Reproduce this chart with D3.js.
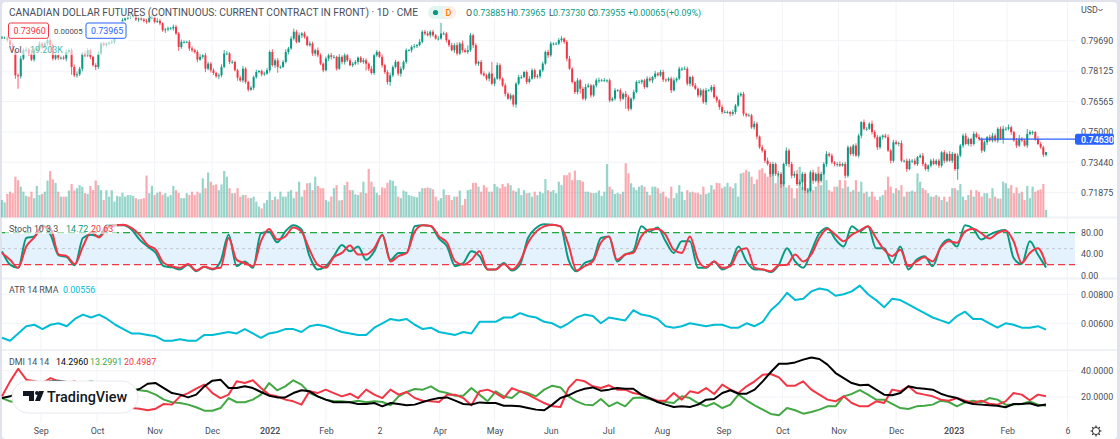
<!DOCTYPE html>
<html>
<head>
<meta charset="utf-8">
<script src="https://cdn.jsdelivr.net/npm/d3@7"></script>
<style>
html, body { margin: 0; padding: 0; background: #e0e3eb; overflow: hidden; }
text { font-family: Roboto, sans-serif; }
.axis text { fill: #4a4e58; font-size: 8.9px; }
</style>
</head>
<body>
<svg id="chart" width="1120" height="439"></svg>
<script>
// close of each session, in 1/10000 of a dollar
const closes = [
7985,7985,7972,7946,7920,7791,7786,7877,7920,7923,7903,7872,7920,7929,7954,7937,7954,7972,7946,7877,
7894,7882,7882,7877,7911,7920,7834,7791,7796,7825,7903,7894,7920,7886,7843,7834,7903,7954,7946,7954,
7958,7963,7989,8006,8040,8075,8083,8092,8092,8101,8078,8083,8078,8071,8066,8092,8092,8066,8071,8058,
8023,8027,8032,8032,8040,8006,7937,7963,7963,7963,7929,7920,7911,7872,7886,7894,7825,7851,7817,7803,
7786,7791,7834,7903,7903,7860,7860,7817,7779,7765,7825,7757,7717,7727,7782,7808,7813,7796,7800,7817,
7911,7843,7868,7834,7834,7860,7911,7929,7980,8015,7963,7997,8006,7989,7946,7954,7903,7920,7894,7851,
7817,7877,7894,7886,7886,7825,7886,7860,7894,7868,7843,7851,7860,7882,7860,7868,7851,7825,7803,
7894,7911,7886,7843,7808,7757,7791,7834,7860,7800,7825,7860,7920,7920,7937,7941,7946,7963,8015,8006,
7997,8015,7997,7980,7980,8006,8006,7972,7946,7920,7946,7903,7954,7920,7911,7920,7997,7946,7851,7860,
7800,7791,7774,7800,7748,7774,7843,7774,7739,7696,7671,7688,7641,7748,7782,7782,7808,7757,7774,7817,
7782,7786,7817,7851,7911,7894,7954,7954,7954,7972,7980,7963,7877,7825,7757,7705,7765,7722,7671,7731,
7739,7688,7739,7765,7765,7765,7765,7765,7662,7671,7714,7714,7671,7696,7679,7619,7671,7705,7757,7757,
7765,7731,7774,7765,7782,7800,7791,7808,7769,7765,7774,7714,7765,7774,7825,7825,7825,7748,7782,7739,
7722,7688,7714,7653,7714,7714,7731,7679,7662,7628,7602,7602,7602,7593,7602,7636,7688,7696,7593,
7585,7585,7524,7542,7476,7421,7404,7352,7335,7284,7335,7284,7284,7232,7335,7404,7335,7275,7284,7232,
7241,7284,7198,7198,7292,7249,7284,7249,7284,7335,7387,7378,7344,7335,7335,7327,7335,7275,7421,7387,
7430,7378,7481,7550,7516,7516,7542,7499,7473,7421,7473,7481,7473,7404,7352,7447,7438,7442,7352,7352,
7309,7352,7352,7335,7370,7378,7335,7309,7327,7352,7335,7352,7327,7395,7352,7387,7352,7387,7309,7378,
7430,7481,7438,7464,7438,7490,7473,7464,7404,7447,7473,7456,7481,7456,7516,7464,7516,7516,7524,7499,
7456,7430,7464,7456,7430,7490,7499,7499,7464,7438,7421,7383,7396
];
// how far each session's high runs above its body, same units
const highWicks = [
8,6,10,8,12,6,10,15,10,12,8,20,10,8,12,8,10,14,12,10,
8,10,6,10,12,8,10,12,15,10,8,12,10,8,6,10,12,8,10,6,
8,10,12,10,14,10,8,12,18,10,8,10,14,8,10,6,12,8,14,10,
6,8,10,8,12,10,8,12,8,6,10,12,8,10,14,6,12,10,8,10,
6,10,14,18,12,8,10,6,8,10,14,8,6,10,8,12,6,8,10,12,
8,14,10,12,8,10,14,8,12,16,10,14,8,10,6,12,10,8,14,10,
6,10,8,12,10,6,14,8,10,6,12,8,10,6,8,12,10,6,14,8,
10,6,12,8,10,14,8,10,6,12,8,10,6,8,10,6,14,8,10,12,
8,10,6,12,55,10,8,6,12,10,14,8,16,10,25,12,8,10,6,10,
12,8,10,60,8,14,10,6,12,8,10,6,8,12,10,6,8,14,10,8,
12,6,10,8,12,10,6,8,10,12,6,10,14,8,6,12,8,10,16,12,
8,6,10,14,8,12,6,10,8,12,6,10,8,14,10,6,12,8,10,6,
8,12,10,6,14,8,10,12,6,8,10,14,6,10,8,12,10,6,8,12,
6,10,8,12,6,10,14,8,6,12,10,8,6,12,8,14,8,10,6,10,8,14,
10,6,12,8,16,10,12,8,14,10,8,16,10,12,14,20,14,10,8,12,
10,14,8,6,12,10,14,8,12,6,10,14,8,12,10,6,8,12,10,6,
14,10,8,16,10,12,8,6,10,14,8,12,10,8,14,6,12,10,8,12,
6,10,14,8,6,10,12,8,10,6,12,8,14,10,6,12,8,10,14,8,
6,12,10,14,8,10,6,12,14,10,8,12,16,10,14,8,6,12,20,10,
8,25,10,8,6,14,10,8,1
];
const lowWicks = [
6,8,10,8,14,18,64,12,8,10,12,8,10,6,8,12,8,10,40,10,
8,12,10,6,14,10,40,10,12,8,14,10,8,12,8,16,10,8,6,10,
8,6,12,8,6,10,8,6,10,6,8,12,6,8,10,6,12,8,6,10,
8,14,10,6,12,8,20,10,8,6,12,10,8,14,6,10,18,8,12,10,
8,14,10,6,8,12,10,6,16,8,12,10,10,6,12,8,6,10,8,6,
12,8,14,30,10,6,8,12,6,10,8,6,14,10,6,8,12,14,10,8,
10,6,12,14,8,10,6,12,14,8,6,10,8,14,6,10,35,12,8,10,
8,6,12,10,14,20,10,8,12,16,8,10,6,12,8,10,6,8,10,6,
12,8,6,10,6,8,12,10,6,14,10,8,12,6,10,8,14,10,12,8,
6,10,14,8,12,6,10,8,14,6,10,12,16,8,10,6,12,8,6,10,
8,12,10,6,14,8,10,6,8,12,10,14,6,8,10,12,25,8,10,6,
12,8,10,14,6,8,12,10,6,10,8,14,6,60,12,8,10,6,8,12,
10,6,8,14,10,6,8,12,10,8,14,6,10,8,12,6,10,14,8,6,
12,10,8,14,6,10,8,12,14,10,6,8,14,10,12,8,8,12,10,6,8,12,
14,8,10,12,8,16,12,10,14,20,12,10,16,14,12,10,8,40,12,14,
10,16,8,12,10,6,14,8,10,12,14,8,6,14,10,8,12,6,10,14,
8,10,6,12,8,14,10,12,6,8,14,10,6,12,8,10,14,6,12,8,
10,6,12,8,14,10,6,8,12,10,14,8,6,12,10,55,8,12,6,10,
14,8,6,10,12,8,14,6,10,8,12,6,25,10,8,14,6,12,8,10,
6,12,8,14,10,6,8,12,10
];
// volume in thousands
const volumes = [
45,39,61,67,63,106,97,80,67,56,54,67,50,82,58,61,67,96,121,99,
90,67,54,54,54,70,87,70,76,84,80,63,61,82,71,96,84,71,45,71,
54,71,41,56,54,64,54,58,58,56,50,47,48,50,109,63,82,58,64,67,
58,63,54,58,82,71,64,50,50,63,58,67,58,67,63,102,76,117,93,84,
86,71,86,121,106,76,63,63,76,54,58,58,50,50,54,41,28,23,37,45,
67,45,54,47,67,54,54,67,71,50,67,93,54,71,89,90,71,106,82,76,
76,45,41,54,76,84,44,45,84,93,71,71,60,58,65,93,63,126,93,
80,64,58,78,76,90,97,95,82,54,50,70,67,58,56,54,52,67,76,76,
78,76,73,54,44,50,73,58,58,45,54,54,70,32,48,71,73,90,90,80,
67,84,78,67,67,87,80,76,87,80,89,84,70,67,76,58,71,63,64,54,
67,58,67,63,100,71,67,71,63,93,84,110,110,117,97,122,97,97,93,67,
67,64,63,64,70,56,67,139,80,73,61,64,61,67,141,115,89,78,71,80,
84,80,67,58,80,80,76,63,67,54,50,80,50,63,84,67,45,71,65,67,
64,64,60,80,61,64,84,73,90,89,76,80,90,80,76,89,54,115,117,
124,119,106,87,99,124,128,115,106,119,115,89,115,93,93,78,84,76,50,76,
132,80,67,76,76,71,80,132,84,115,97,71,67,80,80,97,76,97,80,67,
71,97,67,93,63,67,54,67,54,45,54,58,71,106,80,63,76,71,84,54,
67,67,70,67,115,93,76,71,63,54,54,58,54,45,54,41,54,76,76,71,
87,54,45,58,71,54,71,67,54,63,63,50,76,54,49,49,93,89,76,84,
63,78,63,67,45,82,50,80,67,71,73,87,19.2
];

// indicator lines are read about every third session
const lineStep = 390 / 129;
const stochK = [
45,20,14,70,73,94,76,37.5,34,19,70,76,73,94,94,94,86,67,54,42,17,15,11,20,7.5,16,11,26,76,17,26,14,79,82,62,82,94,86,36,11,17,36,57,45,54,29,
45,76,29,42,42,92,94,92,69,54,17,23,45,36,11,11,23,9,20,70,89,96,95,92,29,7.5,23,29,70,73,26,39,45,92,82,90,64,42,64,64,14,14,26,11,20,54,
26,11,11,6,20,51,26,14,45,79,89,67,54,92,82.5,92,51,51,23,54,11,29,36,17,54,67,54,94,87.5,67,76,82.5,85,32.5,21,64,39,14.72
];
const stochD = [
42,29,14,54,71,92,87.5,39,36,21,54,81,71,89,94,95,89,76,57,48,23,17,14,21,9,16,12.5,14,70,29,23,17,64,87,67,73,90,82,48,20,14,34,42,56,39,39,
51,75,26,36,42,82,94,92.5,73,61,26,20,29,45,11,11,21,11,26,61,82,92,95,92,57,9,17,26,61,73,29,39,42,73,86,87,76,48,42,73,29,15,26,14,17,45,
51,14,11,7.5,19,20,39,26,39,70,87,76,64,76,84,92,70,48,36,48,17,26,34,26,52.5,64,61,82.5,87.5,79,69,79,84,64,23,42,51,20.63
];
// ATR in 1/100000
const atrValues = [
500,480,530,580,590,560,590,600,580,630,660,640,660,630,590,560,530,530,520,510,480,480,490,480,480,520,520,530,540,530,560,530,500,530,540,560,560,540,580,590,580,560,540,530,520,520,
570,600,630,620,630,590,560,570,540,530,520,540,530,610,610,610,640,640,670,650,640,610,600,570,600,640,660,650,600,640,630,620,690,660,650,630,580,570,580,600,590,580,590,590,570,570,
600,580,610,690,740,810,760,770,820,840,830,790,800,820,860,800,760,710,770,760,730,700,670,640,620,600,650,680,630,630,600,570,600,590,570,570,580,556
];
const adxValues = [
19.2,20.5,23,26.8,29.4,30.6,31.9,32.4,31.4,29.4,26.8,24.3,22.3,21.8,21.8,22.3,24.3,26.1,30.1,30.6,26.8,23,21.8,19.7,21.8,28.1,32.4,33.2,26.8,26.8,28.1,26.8,23.8,21,19.7,19.7,23,25.1,24.3,20.5,18,16,16,16,14.7,14.7,
15.4,12.9,15.4,14.7,13.7,14.2,16.2,18,19.2,19.7,17.2,14.7,14.2,15.9,15.4,15.4,13.4,13.4,12.9,11.6,10.4,9.9,14.2,19.2,21.3,24.3,26.3,27.3,24.8,25.6,26.8,26.3,26.3,21.8,19.2,16.2,14.2,12.4,12.9,12.4,14.2,18,18.5,23,25.1,22.5,
22.5,25.6,31.9,39,45.3,45.3,46.3,48.4,50.1,48.9,44.6,38.2,34.4,30.6,28.9,29.4,25.6,21.8,21.3,23,28.1,26.8,26.3,25.6,22.5,20.5,19.2,16.2,14.7,14.2,13.7,13.4,12.2,14.7,14.7,15.2,13.4,14.296
];
const diPlusValues = [
19.2,16.7,15.4,14.2,15.4,18,19.2,21.8,24.3,29.4,30.6,31.9,30.6,29.4,30.6,28.1,26.8,25.1,24.3,21.8,18,16,15.4,14.2,12.2,9.6,9.6,11.6,19.2,16,16,18,21.8,30.6,25.1,28.1,32.7,29.4,23,20.5,18,16.7,16.7,16,17.2,16,
16.7,16.2,13.7,20.5,23.8,26.1,25.6,28.1,24.3,23,21,21,26.8,21.8,16.7,24.3,20.5,19.2,24.3,23,20.5,25.6,28.6,27.3,20.5,16.7,14.2,13.7,18.5,12.9,15.9,12.9,19.2,19.7,18.5,16.7,16.2,15.4,20.5,19.2,15.4,12.9,15.4,11.6,14.2,21.8,
17.5,13.7,10.4,7.1,6.1,11.6,9.9,7.3,8.6,10.4,12.9,12.9,20.5,22.3,25.3,21.8,18,18,14.7,11.6,10.9,12.9,13.4,14.2,17.2,16.2,12.9,15.9,17.2,15.9,19.2,18,14.2,14.2,14.7,16.7,14.2,13.2991
];
const diMinusValues = [
20.5,31.9,41.5,33.2,31.9,30.6,34.4,31.9,30.6,31.9,26.8,23,18,15.4,12.9,11.6,11.6,11.1,9.9,11.1,14.7,14.2,20.5,23,26.3,29.4,23,19.2,21.8,31.9,30.6,32.7,26.8,21.8,20.5,18,16.7,14.2,24.3,23,25.6,23,20.5,22.5,19.2,25.6,
21.8,19.2,25.6,21.8,23.8,19.2,17.2,16.7,16.2,21.8,21.8,19.2,13.7,24.3,25.6,23,19.2,26.8,24.3,21.8,18.5,15.4,12.9,12.4,26.8,33.2,31.9,28.1,26.8,28.9,25.6,25.6,23,21.8,19.2,17.2,17.2,23,18,24.3,23,26.8,22.3,29.4,25.6,23,
28.1,31.9,37,37.5,34.9,28.6,28.6,31.9,25.6,21.8,18,16.7,20.5,15.4,12.9,12.9,16.7,15.4,25.6,24.3,28.1,23,21.8,20.5,18,17.2,19.2,17.2,15.4,17.2,14.9,14.2,16.7,23,21.8,17.5,21.8,20.4987
];

// axis labels and the session each one sits on
const timeLabels = ['Sep','Oct','Nov','Dec','2022','Feb','2','Apr','May','Jun','Jul','Aug','Sep','Oct','Nov','Dec','2023','Feb','6'];
const timeIndexes = [14.5,35.5,57,78.5,100,121,141,163.5,184,205,226.5,246.5,269.5,291.5,312.5,334,355.5,375.5,398];
const priceTicks = [7969,7812.5,7656.5,7500,7344,7187.5];
const stochTicks = [80,40,0];
const atrTicks = [800,600];
const dmiTicks = [40,20];
const lastMark = 7463;

const upColor = '#089981', downColor = '#f23645', gridColor = '#f1f3f7', textColor = '#4a4e58';
const plotRight = 1075;
const legendSize = 8.9;

const svg = d3.select('#chart');
svg.append('rect').attr('x', 2).attr('y', 2).attr('width', 1115).attr('height', 437).attr('rx', 4).attr('fill', '#fff');

const x = d3.scaleLinear().domain([0, 390]).range([2, 1046]);
const yPrice = d3.scaleLinear().domain([7187.5, 7969]).range([192.7, 40.7]);
const yVolume = d3.scaleLinear().domain([0, 141]).range([217.3, 163.3]);
const yStoch = d3.scaleLinear().domain([0, 80]).range([275.3, 232.7]);
const yAtr = d3.scaleLinear().domain([600, 800]).range([323.3, 294.3]);
const yDmi = d3.scaleLinear().domain([20, 40]).range([397, 370.7]);

// grid
timeIndexes.forEach(i => {
  svg.append('line').attr('x1', x(i)).attr('x2', x(i)).attr('y1', 2).attr('y2', 423).attr('stroke', gridColor);
});
function hGrid(ticks, scale) {
  ticks.forEach(t => {
    svg.append('line').attr('x1', 2).attr('x2', plotRight).attr('y1', scale(t)).attr('y2', scale(t)).attr('stroke', gridColor);
  });
}
hGrid(priceTicks, yPrice);
hGrid(atrTicks, yAtr);
hGrid(dmiTicks, yDmi);

// pane separators
[217.5, 278.5, 350].forEach(y => {
  svg.append('line').attr('x1', 2).attr('x2', 1117).attr('y1', y).attr('y2', y).attr('stroke', '#eff1f6').attr('stroke-width', 2);
});

// sessions
const sessions = closes.map((c, i) => {
  const o = i ? closes[i - 1] : c;
  return {i, o, c, hi: Math.max(o, c) + (highWicks[i] || 0), lo: Math.min(o, c) - (lowWicks[i] || 0), v: volumes[i] || 0};
});
const sessionColor = d => d.c >= d.o ? upColor : downColor;

svg.append('g').selectAll('rect').data(sessions).join('rect')
  .attr('x', d => x(d.i) - 1.1).attr('width', 2.2)
  .attr('y', d => yVolume(d.v)).attr('height', d => yVolume(0) - yVolume(d.v))
  .attr('fill', sessionColor).attr('opacity', 0.42);

svg.append('g').selectAll('line').data(sessions).join('line')
  .attr('x1', d => x(d.i)).attr('x2', d => x(d.i))
  .attr('y1', d => yPrice(d.hi)).attr('y2', d => yPrice(d.lo))
  .attr('stroke', sessionColor).attr('stroke-width', 0.8);

svg.append('g').selectAll('rect').data(sessions).join('rect')
  .attr('x', d => x(d.i) - 1).attr('width', 2)
  .attr('y', d => yPrice(Math.max(d.o, d.c)))
  .attr('height', d => Math.max(0.8, Math.abs(yPrice(d.o) - yPrice(d.c))))
  .attr('fill', sessionColor);

// last price mark
svg.append('line').attr('x1', 979).attr('x2', plotRight).attr('y1', yPrice(lastMark)).attr('y2', yPrice(lastMark))
  .attr('stroke', '#2962ff').attr('stroke-width', 1.2);

// stochastic band
svg.append('rect').attr('x', 2).attr('width', plotRight - 2)
  .attr('y', yStoch(80)).attr('height', yStoch(20) - yStoch(80)).attr('fill', '#e3f2fd');
[[80, '#1fa83c'], [50, '#c4c8d0'], [20, '#f23645']].forEach(([v, color]) => {
  svg.append('line').attr('x1', 2).attr('x2', plotRight).attr('y1', yStoch(v)).attr('y2', yStoch(v))
    .attr('stroke', color).attr('stroke-width', v === 50 ? 1 : 1.3)
    .attr('stroke-dasharray', v === 50 ? '3,3' : '7,4');
});

function drawLine(values, scale, color, width, curve) {
  const line = d3.line().x((d, j) => x(j * lineStep)).y(d => scale(d)).curve(curve || d3.curveLinear);
  svg.append('path').attr('d', line(values)).attr('fill', 'none')
    .attr('stroke', color).attr('stroke-width', width).attr('stroke-linejoin', 'round');
}
drawLine(stochK, yStoch, upColor, 2, d3.curveMonotoneX);
drawLine(stochD, yStoch, downColor, 2, d3.curveMonotoneX);
drawLine(atrValues, yAtr, '#00bcd4', 2);
drawLine(diPlusValues, yDmi, '#43a843', 2);
drawLine(diMinusValues, yDmi, downColor, 2);
drawLine(adxValues, yDmi, '#000', 2);

// axes
function rightAxis(ticks, scale, fmt) {
  const g = svg.append('g').attr('class', 'axis').attr('transform', 'translate(1081,0)')
    .call(d3.axisRight(scale).tickValues(ticks).tickSize(0).tickPadding(0).tickFormat(fmt));
  g.select('.domain').remove();
}
rightAxis(priceTicks, yPrice, d => d3.format('.5f')(d / 10000));
rightAxis(stochTicks, yStoch, d3.format('.2f'));
rightAxis(atrTicks, yAtr, d => d3.format('.5f')(d / 100000));
rightAxis(dmiTicks, yDmi, d3.format('.4f'));

const bottom = svg.append('g').attr('class', 'axis').attr('transform', 'translate(0,425)')
  .call(d3.axisBottom(x).tickValues(timeIndexes).tickSize(0).tickPadding(3).tickFormat((d, i) => timeLabels[i]));
bottom.select('.domain').remove();
bottom.selectAll('text').attr('font-weight', (d, i) => /^20/.test(timeLabels[i]) ? 600 : 400);

function label(px, py, str, color, size, weight) {
  return svg.append('text').attr('x', px).attr('y', py).text(str)
    .attr('fill', color).attr('font-size', size || legendSize).attr('font-weight', weight || 400);
}

// top legend, with the white wash it has over the candles
svg.append('rect').attr('x', 5).attr('y', 3).attr('width', 695).attr('height', 15).attr('fill', '#fff').attr('opacity', 0.6);
svg.append('rect').attr('x', 5).attr('y', 21).attr('width', 123).attr('height', 34).attr('fill', '#fff').attr('opacity', 0.6);
label(9, 16, 'CANADIAN DOLLAR FUTURES (CONTINUOUS: CURRENT CONTRACT IN FRONT) · 1D · CME', textColor, 10.4)
  .attr('textLength', 409).attr('lengthAdjust', 'spacingAndGlyphs');
svg.append('rect').attr('x', 428).attr('y', 6).attr('width', 28).attr('height', 13).attr('rx', 6.5).attr('fill', '#e3f4f1');
svg.append('rect').attr('x', 442).attr('y', 6).attr('width', 14).attr('height', 13).attr('rx', 6.5).attr('fill', '#fdeee4');
svg.append('circle').attr('cx', 435.5).attr('cy', 12.5).attr('r', 2.6).attr('fill', upColor);
label(445.5, 16, 'D', '#f57c00', 9, 500);

const ohlcLabels = ['O', 'H', 'L', 'C'];
const ohlcValues = ['0.73885', '0.73965', '0.73730', '0.73955'];
const ohlcX = [466, 507, 549, 588];
const ohlcValueX = [473, 513, 553, 593];
ohlcLabels.forEach((name, i) => {
  label(ohlcX[i], 16, name, textColor);
  label(ohlcValueX[i], 16, ohlcValues[i], upColor);
});
label(628, 16, '+0.00065', upColor);
label(666, 16, '(+0.09%)', upColor);

svg.append('rect').attr('x', 8.5).attr('y', 23).attr('width', 40).attr('height', 15.3).attr('rx', 2).attr('fill', '#fff').attr('stroke', '#f23645');
label(13.5, 34, '0.73960', '#f23645');
label(54, 33.8, '0.00005', textColor, 7.9);
svg.append('rect').attr('x', 86).attr('y', 23).attr('width', 40).attr('height', 15.3).attr('rx', 2).attr('fill', '#fff').attr('stroke', '#2962ff');
label(91, 34, '0.73965', '#2962ff');
label(9, 52.5, 'Vol', textColor);
label(30, 52.5, '19.203K', '#4cb8a6');

// indicator legends
svg.append('rect').attr('x', 5).attr('y', 222).attr('width', 112).attr('height', 12).attr('fill', '#fff').attr('opacity', 0.6);
label(9, 232, 'Stoch 10 3 3', textColor);
label(66, 232, '14.72', upColor);
label(91, 232, '20.63', downColor);
label(9, 293, 'ATR 14 RMA', textColor);
label(63, 293, '0.00556', '#00bcd4');
label(9, 364.5, 'DMI 14 14', textColor);
label(56, 364.5, '14.2960', '#000');
label(90, 364.5, '13.2991', '#43a843');
label(124, 364.5, '20.4987', downColor);

// USD menu
label(1081, 13, 'USD', textColor);
svg.append('path').attr('d', 'M1098.5 9l2 2 2-2').attr('fill', 'none').attr('stroke', textColor);

// last price tag
svg.append('rect').attr('x', 1075).attr('y', yPrice(lastMark) - 5.4).attr('width', 39).attr('height', 11).attr('rx', 2).attr('fill', '#2962ff');
label(1081, yPrice(lastMark) + 3.5, d3.format('.5f')(lastMark / 10000), '#fff', 8.9, 600);

// settings gear
svg.append('circle').attr('cx', 1096).attr('cy', 431).attr('r', 3.6).attr('fill', 'none').attr('stroke', '#333').attr('stroke-width', 1);
d3.range(8).forEach(k => {
  const a = k * Math.PI / 4;
  svg.append('line').attr('x1', 1096 + 3.6 * Math.cos(a)).attr('y1', 431 + 3.6 * Math.sin(a))
    .attr('x2', 1096 + 5.4 * Math.cos(a)).attr('y2', 431 + 5.4 * Math.sin(a)).attr('stroke', '#333').attr('stroke-width', 1.2);
});

// TradingView badge
svg.append('rect').attr('x', 12).attr('y', 381).attr('width', 126).attr('height', 32).attr('rx', 16)
  .attr('fill', '#fff').attr('stroke', '#e8eaf0');
svg.append('path').attr('fill', '#131722')
  .attr('d', 'M23 391h11v10h-5v-5h-6z M40 401l4-10h-5l-4 10z');
svg.append('circle').attr('cx', 37).attr('cy', 393).attr('r', 2).attr('fill', '#131722');
label(47, 402, 'TradingView', '#131722', 14.4, 500);
</script>
</body>
</html>
